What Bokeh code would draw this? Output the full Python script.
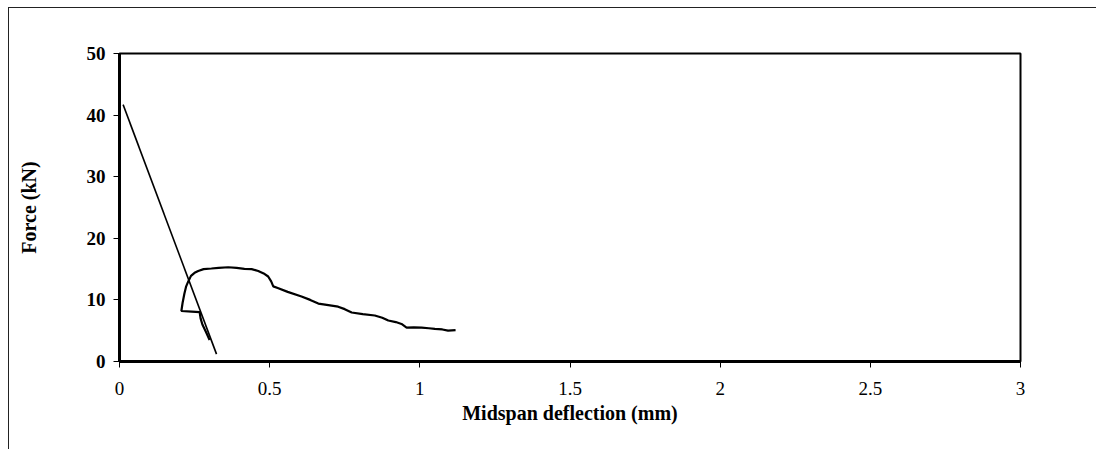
from bokeh.plotting import figure
from bokeh.embed import file_html
from bokeh.resources import INLINE
from bokeh.models import FixedTicker, Range1d

# Series 1: straight unloading line
s1_x = [0.012, 0.323]
s1_y = [41.7, 1.2]

# Series 2: force-deflection curve
s2_x = [0.300, 0.288, 0.276, 0.270, 0.267, 0.240, 0.206, 0.210, 0.216, 0.222, 0.229,
        0.238, 0.250, 0.262, 0.280, 0.306, 0.330, 0.362, 0.390, 0.416, 0.440,
        0.462, 0.480, 0.495, 0.505, 0.512, 0.529, 0.560, 0.606, 0.635, 0.662,
        0.690, 0.728, 0.750, 0.773, 0.810, 0.850, 0.875, 0.895, 0.920, 0.939,
        0.956, 0.980, 1.006, 1.030, 1.050, 1.075, 1.094, 1.119]
s2_y = [3.5, 4.8, 6.0, 7.0, 8.0, 8.1, 8.2, 9.5, 11.0, 12.2, 13.0,
        13.9, 14.4, 14.7, 15.0, 15.1, 15.2, 15.3, 15.2, 15.05, 15.0,
        14.7, 14.3, 13.8, 13.0, 12.2, 11.9, 11.3, 10.55, 10.0, 9.4,
        9.2, 8.9, 8.5, 7.95, 7.7, 7.47, 7.1, 6.65, 6.4, 6.1,
        5.5, 5.55, 5.5, 5.4, 5.3, 5.2, 5.0, 5.1]

x_ticks = [0, 0.5, 1, 1.5, 2, 2.5, 3]
x_tick_labels = ["0", "0.5", "1", "1.5", "2", "2.5", "3"]
y_ticks = [0, 10, 20, 30, 40, 50]

FONT = "Liberation Serif"

p = figure(width=1088, height=442, output_backend="svg", toolbar_location=None,
           x_range=Range1d(0, 3), y_range=Range1d(0, 50),
           min_border_left=110, min_border_right=77, min_border_top=45,
           min_border_bottom=89)
p.margin = (7, 0, 0, 8)
p.styles = {"border-top": "1px solid #222", "border-left": "1px solid #222"}

p.line(s1_x, s1_y, line_color="black", line_width=1.6)
p.line(s2_x, s2_y, line_color="black", line_width=2.2)

p.grid.visible = False
p.outline_line_color = "black"
p.outline_line_width = 2
p.outline_line_alpha = 1

p.xaxis.ticker = FixedTicker(ticks=x_ticks)
p.xaxis.major_label_overrides = {t: l for t, l in zip(x_ticks, x_tick_labels)}
p.yaxis.ticker = FixedTicker(ticks=y_ticks)

for ax in (p.xaxis[0], p.yaxis[0]):
    ax.axis_line_color = "black"
    ax.axis_line_width = 3
    ax.major_tick_line_color = "black"
    ax.major_tick_in = 0
    ax.major_tick_out = 6
    ax.minor_tick_line_color = None
    ax.major_label_text_font = FONT
    ax.major_label_text_font_size = "19px"
    ax.major_label_text_color = "black"
    ax.axis_label_text_font = FONT
    ax.axis_label_text_font_size = "20px"
    ax.axis_label_text_font_style = "bold"
    ax.axis_label_text_color = "black"

p.xaxis.axis_label = "Midspan deflection (mm)"
p.xaxis.major_label_standoff = 14
p.xaxis.axis_label_standoff = 4
p.xaxis.major_label_text_font_style = "normal"

p.yaxis.axis_label = "Force (kN)"
p.yaxis.major_label_standoff = 8
p.yaxis.axis_label_standoff = 44
p.yaxis.major_label_text_font_style = "bold"

open("out.html", "w").write(file_html(p, INLINE))
